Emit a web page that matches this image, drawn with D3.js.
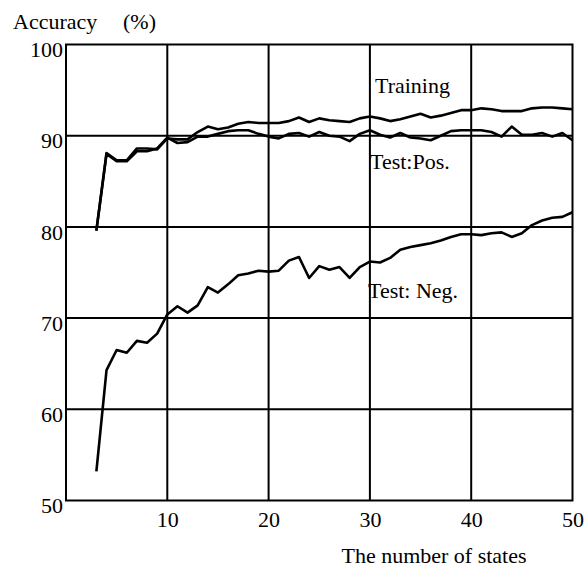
<!DOCTYPE html>
<html>
<head>
<meta charset="utf-8">
<script src="https://cdn.jsdelivr.net/npm/d3@7"></script>
<style>
  body { margin: 0; background: #fff; }
  text { font-family: "Liberation Serif", "Times New Roman", serif; fill: #000; }
</style>
</head>
<body>
<script>
var states = [3, 4, 5, 6, 7, 8, 9, 10, 11, 12, 13, 14, 15, 16, 17, 18, 19, 20, 21, 22, 23, 24, 25, 26,
  27, 28, 29, 30, 31, 32, 33, 34, 35, 36, 37, 38, 39, 40, 41, 42, 43, 44, 45, 46, 47, 48, 49, 50];

var training = [79.6, 88.1, 87.3, 87.3, 88.6, 88.6, 88.5, 89.7, 89.6, 89.6, 90.4, 91.0, 90.7, 90.9,
  91.3, 91.5, 91.4, 91.4, 91.4, 91.6, 92.0, 91.5, 91.9, 91.7, 91.6, 91.5, 91.9, 92.1, 91.9, 91.6,
  91.8, 92.1, 92.4, 92.0, 92.2, 92.5, 92.8, 92.8, 93.0, 92.9, 92.7, 92.7, 92.7, 93.0, 93.1, 93.1,
  93.0, 92.9];

var testPos = [79.6, 88.0, 87.2, 87.2, 88.3, 88.3, 88.6, 89.8, 89.2, 89.3, 89.9, 89.9, 90.2, 90.5,
  90.6, 90.6, 90.2, 89.9, 89.7, 90.2, 90.3, 89.9, 90.4, 90.0, 89.9, 89.4, 90.2, 90.6, 90.1, 89.8,
  90.3, 89.8, 89.7, 89.5, 90.0, 90.5, 90.6, 90.6, 90.6, 90.4, 89.9, 91.0, 90.1, 90.1, 90.3, 89.9,
  90.3, 89.5];

var testNeg = [53.2, 64.3, 66.5, 66.2, 67.5, 67.3, 68.3, 70.4, 71.3, 70.6, 71.4, 73.4, 72.8, 73.7,
  74.7, 74.9, 75.2, 75.1, 75.2, 76.3, 76.7, 74.4, 75.7, 75.3, 75.6, 74.4, 75.6, 76.2, 76.1, 76.6,
  77.5, 77.8, 78.0, 78.2, 78.5, 78.9, 79.2, 79.2, 79.1, 79.3, 79.4, 78.9, 79.3, 80.2, 80.7, 81.0,
  81.1, 81.6];

var xTicks = [10, 20, 30, 40, 50];
var yTicks = [50, 60, 70, 80, 90, 100];
var seriesLabels = ["Training", "Test:Pos.", "Test: Neg."];

var margin = { top: 44.5, right: 14.5, bottom: 70.5, left: 66 },
    width = 587 - margin.left - margin.right,
    height = 571 - margin.top - margin.bottom;

var svg = d3.select("body").append("svg")
  .attr("width", 587)
  .attr("height", 571);

var g = svg.append("g")
  .attr("transform", "translate(" + margin.left + "," + margin.top + ")");

var x = d3.scaleLinear().domain([0, 50]).range([0, width]);
var y = d3.scaleLinear().domain([50, 100]).range([height, 0]);

// grid
g.selectAll(".vgrid")
  .data(xTicks.slice(0, -1))
  .enter().append("line")
  .attr("x1", function(d) { return x(d); })
  .attr("x2", function(d) { return x(d); })
  .attr("y1", 0)
  .attr("y2", height)
  .attr("stroke", "#000")
  .attr("stroke-width", 2);

g.selectAll(".hgrid")
  .data(yTicks.slice(1, -1))
  .enter().append("line")
  .attr("x1", 0)
  .attr("x2", width)
  .attr("y1", function(d) { return y(d); })
  .attr("y2", function(d) { return y(d); })
  .attr("stroke", "#000")
  .attr("stroke-width", 2);

g.append("rect")
  .attr("width", width)
  .attr("height", height)
  .attr("fill", "none")
  .attr("stroke", "#000")
  .attr("stroke-width", 2);

// axes
var yAxis = g.append("g")
  .call(d3.axisLeft(y).tickValues(yTicks).tickSize(0).tickPadding(3));
yAxis.select(".domain").remove();
yAxis.selectAll("text")
  .attr("dy", "0.55em")
  .style("font-size", "22px")
  .style("font-family", "Liberation Serif");

var xAxis = g.append("g")
  .attr("transform", "translate(0," + height + ")")
  .call(d3.axisBottom(x).tickValues(xTicks).tickSize(0).tickPadding(11));
xAxis.select(".domain").remove();
xAxis.selectAll("text")
  .style("font-size", "22px")
  .style("font-family", "Liberation Serif");

// series
var line = d3.line()
  .x(function(d, i) { return x(states[i]); })
  .y(function(d) { return y(d); });

[testNeg, testPos, training].forEach(function(s) {
  g.append("path")
    .datum(s)
    .attr("d", line)
    .attr("fill", "none")
    .attr("stroke", "#000")
    .attr("stroke-width", 2.6)
    .attr("stroke-linejoin", "round");
});

// labels
var labelPos = [[375, 93], [370, 169], [368, 298]];
seriesLabels.forEach(function(t, i) {
  svg.append("text")
    .attr("x", labelPos[i][0])
    .attr("y", labelPos[i][1])
    .style("font-size", "22px")
    .text(t);
});

svg.append("text")
  .attr("x", 13)
  .attr("y", 29)
  .style("font-size", "22px")
  .text("Accuracy");

svg.append("text")
  .attr("x", 123)
  .attr("y", 29)
  .style("font-size", "22px")
  .text("(%)");

svg.append("text")
  .attr("x", 434)
  .attr("y", 563)
  .attr("text-anchor", "middle")
  .style("font-size", "22px")
  .text("The number of states");
</script>
</body>
</html>
